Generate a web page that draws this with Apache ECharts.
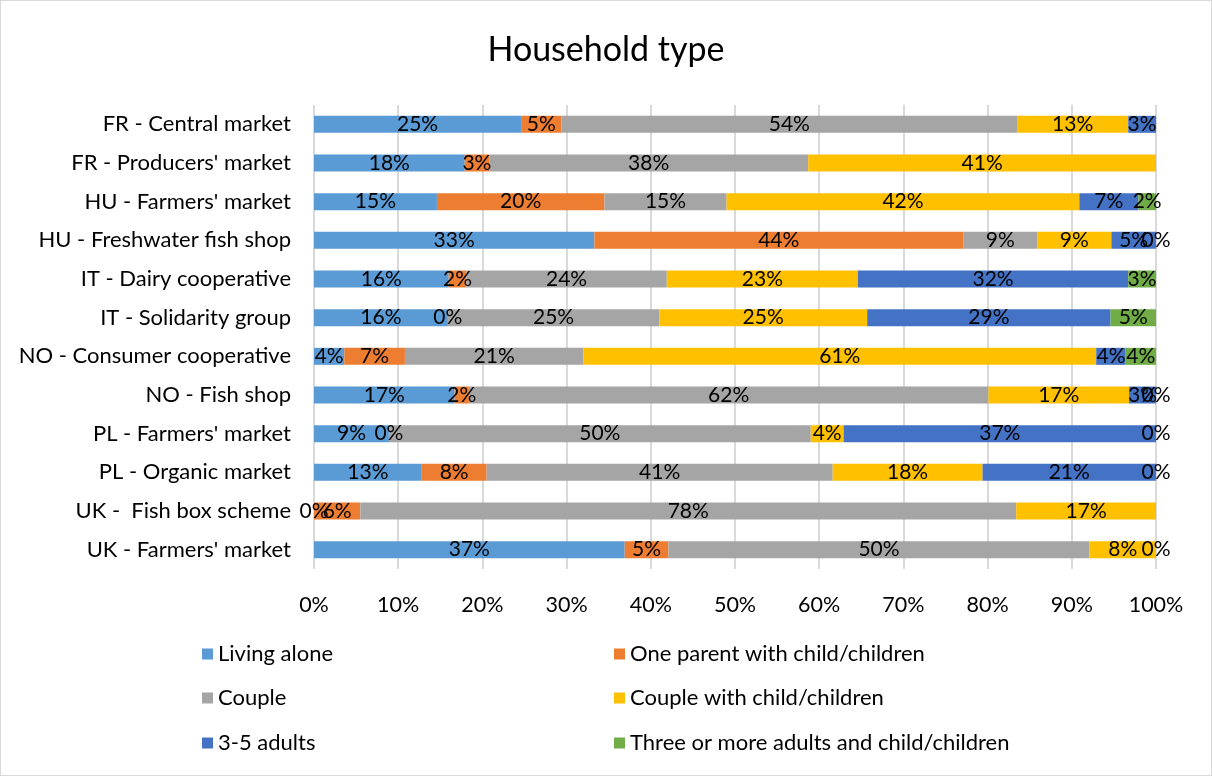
<!DOCTYPE html>
<html>
<head>
<meta charset="utf-8">
<script src="https://cdn.jsdelivr.net/npm/echarts@6/dist/echarts.min.js"></script>
<style>
  html, body { margin: 0; padding: 0; background: #fff; }
  #main { width: 1210px; height: 774px; border: 1px solid #d9d9d9; }
</style>
</head>
<body>
<div id="main"></div>
<script>
// 市场类别
var categories = [
  'FR - Central market',
  "FR - Producers' market",
  "HU - Farmers' market",
  'HU - Freshwater fish shop',
  'IT - Dairy cooperative',
  'IT - Solidarity group',
  'NO - Consumer cooperative',
  'NO - Fish shop',
  "PL - Farmers' market",
  'PL - Organic market',
  'UK -  Fish box scheme',
  "UK - Farmers' market"
];
var seriesNames = [
  'Living alone',
  'One parent with child/children',
  'Couple',
  'Couple with child/children',
  '3-5 adults',
  'Three or more adults and child/children'
];
var colors = ['#5B9BD5', '#ED7D31', '#A5A5A5', '#FFC000', '#4472C4', '#70AD47'];

// 每个系列的数值 (%)，null = 无数据
var livingAlone   = [24.6, 17.9, 14.6, 33.3, 16.0, 15.9, 3.6, 16.7, 8.9, 12.8, 0, 36.9];
var oneParent     = [4.8, 2.9, 19.9, 43.8, 2.1, 0, 7.2, 1.7, 0, 7.7, 5.5, 5.2];
var couple        = [54.1, 37.9, 14.5, 8.8, 23.8, 25.1, 21.2, 61.7, 50.1, 41.1, 77.9, 50.0];
var coupleChild   = [13.2, 41.3, 41.9, 8.8, 22.7, 24.7, 60.9, 16.7, 3.9, 17.8, 16.6, 7.9];
var adults35      = [3.3, null, 7.0, 5.3, 32.1, 28.9, 3.5, 3.2, 37.1, 20.6, null, 0];
var threeAdultsCh = [null, null, 2.1, 0, 3.3, 5.4, 3.6, 0, 0, 0, null, null];

var allData = [livingAlone, oneParent, couple, coupleChild, adults35, threeAdultsCh];
var FONT = 'Lato';

var myChart = echarts.init(document.getElementById('main'));

var series = allData.map(function (d, i) {
  return {
    name: seriesNames[i],
    type: 'bar',
    stack: 'total',
    barWidth: 17,
    data: d,
    itemStyle: { color: colors[i] },
    label: {
      show: true,
      position: 'inside',
      color: '#000',
      fontFamily: FONT,
      fontSize: 21,
      formatter: function (p) {
        if (p.value === null || p.value === undefined) return '';
        return Math.round(p.value) + '%';
      }
    },
    emphasis: { disabled: true }
  };
});

// 图例：两列三行
var legendPos = [
  [196, 637], [608, 637],
  [196, 681], [608, 681],
  [196, 726], [608, 726]
];
var legends = seriesNames.map(function (n, i) {
  return {
    data: [n],
    left: legendPos[i][0],
    top: legendPos[i][1],
    itemWidth: 11,
    itemHeight: 11,
    icon: 'rect',
    itemGap: 8,
    textStyle: { fontFamily: FONT, fontSize: 22, color: '#000' }
  };
});

myChart.setOption({
  animation: false,
  title: {
    text: 'Household type',
    left: 'center',
    top: 27,
    textStyle: { fontFamily: FONT, fontSize: 34, fontWeight: 'normal', color: '#000' }
  },
  legend: legends,
  grid: {
    left: 313,
    right: 55,
    top: 104,
    bottom: 206
  },
  xAxis: {
    type: 'value',
    min: 0,
    max: 100,
    interval: 10,
    axisLabel: {
      formatter: '{value}%',
      fontFamily: FONT,
      fontSize: 21.5,
      color: '#000',
      margin: 25
    },
    axisLine: { show: false },
    axisTick: { show: false },
    splitLine: { lineStyle: { color: '#d9d9d9', width: 2 } }
  },
  yAxis: {
    type: 'category',
    data: categories,
    inverse: true,
    axisLabel: {
      fontFamily: FONT,
      fontSize: 22,
      color: '#000',
      margin: 23
    },
    axisLine: { show: false },
    axisTick: { show: false }
  },
  series: series
});
</script>
</body>
</html>
